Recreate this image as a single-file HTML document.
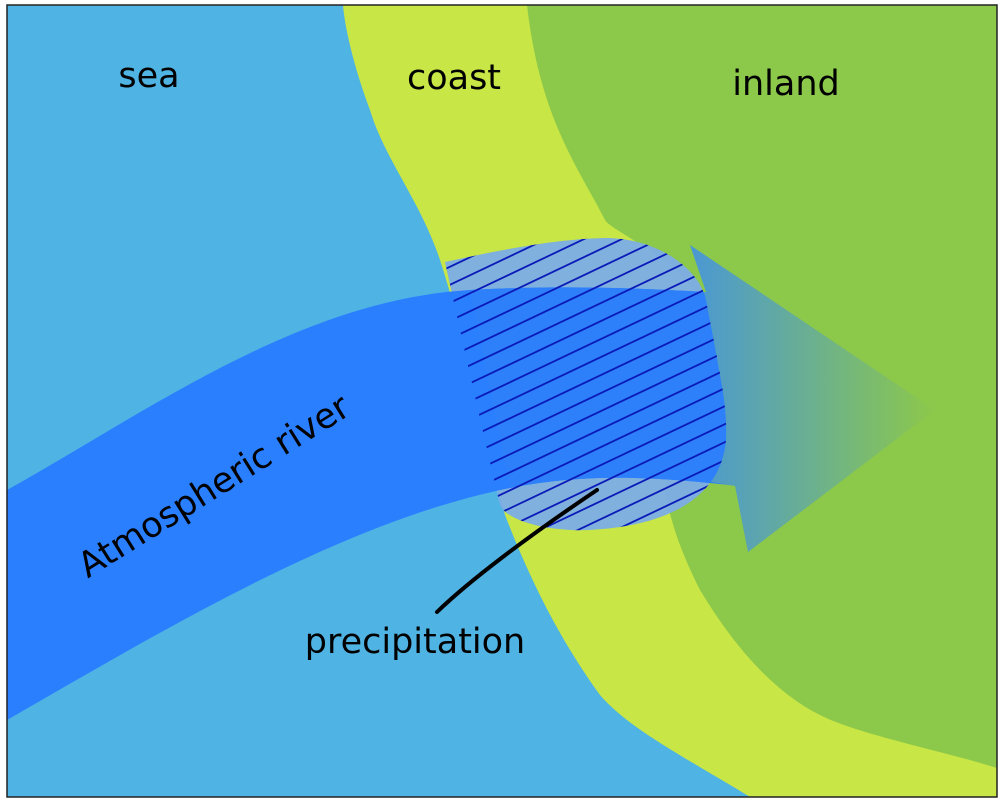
<!DOCTYPE html>
<html><head><meta charset="utf-8"><style>
html,body{margin:0;padding:0;background:#fff;}
svg{display:block}
text{font-family:"DejaVu Sans","Liberation Sans",sans-serif;fill:#000}
</style></head><body>
<svg width="1000" height="800" viewBox="0 0 1000 800" xmlns="http://www.w3.org/2000/svg">
<defs>
<linearGradient id="ag" x1="690" y1="0" x2="935" y2="0" gradientUnits="userSpaceOnUse">
<stop offset="0" stop-color="#4a98d4"/>
<stop offset="1" stop-color="#8cc84a"/>
</linearGradient>
<clipPath id="blob"><path d="M445,262 C500,250 560,238 610,238 C660,240 700,270 706,300 C715,350 728,400 726,440 C722,490 680,525 590,530 C540,532 505,518 500,505 C480,420 460,330 445,262 Z"/></clipPath>
</defs>
<rect x="0" y="0" width="1000" height="800" fill="#fff"/>
<rect x="7" y="5" width="990" height="792" fill="#4fb3e3"/>
<path d="M343,5 L997,5 L997,797 L750,797 C690,760 630,730 600,695 C560,640 530,580 505,515 C480,420 460,320 440,260 C420,200 385,160 370,110 C355,70 345,30 343,5 Z" fill="#c8e645"/>
<path d="M527,5 L997,5 L997,768 C940,750 860,735 820,715 C770,690 730,640 700,590 C680,550 670,520 665,490 L700,300 C680,260 610,230 605,220 C580,170 540,120 527,5 Z" fill="#8cc84a"/>
<!-- blob fill -->
<path d="M445,262 C500,250 560,238 610,238 C660,240 700,270 706,300 C715,350 728,400 726,440 C722,490 680,525 590,530 C540,532 505,518 500,505 C480,420 460,330 445,262 Z" fill="#7cade6" fill-opacity="0.95"/>
<!-- atmospheric river band -->
<path d="M7,490 C150,410 300,300 470,290 C560,285 640,288 705,292 L740,486 C680,480 600,470 510,488 C350,520 180,620 7,720 Z" fill="#2a7fff"/>
<path d="M700,292 L706,292 L690,245 L935,410 L748,552 L735,486 L700,480 Z" fill="url(#ag)"/>
<g clip-path="url(#blob)">
<path d="M470,290 C560,285 640,288 705,292 L740,486 C680,480 600,470 510,488 Z" fill="#2e80fa"/>
</g>
<g clip-path="url(#blob)" stroke="#0a1ab8" stroke-width="1.8">
<line x1="380" y1="300" x2="780" y2="110"/>
<line x1="380" y1="318" x2="780" y2="128"/>
<line x1="380" y1="336" x2="780" y2="146"/>
<line x1="380" y1="354" x2="780" y2="164"/>
<line x1="380" y1="372" x2="780" y2="182"/>
<line x1="380" y1="390" x2="780" y2="200"/>
<line x1="380" y1="408" x2="780" y2="218"/>
<line x1="380" y1="426" x2="780" y2="236"/>
<line x1="380" y1="444" x2="780" y2="254"/>
<line x1="380" y1="462" x2="780" y2="272"/>
<line x1="380" y1="480" x2="780" y2="290"/>
<line x1="380" y1="498" x2="780" y2="308"/>
<line x1="380" y1="516" x2="780" y2="326"/>
<line x1="380" y1="534" x2="780" y2="344"/>
<line x1="380" y1="552" x2="780" y2="362"/>
<line x1="380" y1="570" x2="780" y2="380"/>
<line x1="380" y1="588" x2="780" y2="398"/>
<line x1="380" y1="606" x2="780" y2="416"/>
<line x1="380" y1="624" x2="780" y2="434"/>
<line x1="380" y1="642" x2="780" y2="452"/>
<line x1="380" y1="660" x2="780" y2="470"/>
<line x1="380" y1="678" x2="780" y2="488"/>
<line x1="380" y1="696" x2="780" y2="506"/>
<line x1="380" y1="714" x2="780" y2="524"/>
<line x1="380" y1="732" x2="780" y2="542"/>
<line x1="380" y1="750" x2="780" y2="560"/>
</g>
<path d="M597,490 C530,535 470,580 437,612" fill="none" stroke="#000" stroke-width="4" stroke-linecap="round"/>
<rect x="7" y="5" width="990" height="792" fill="none" stroke="#222" stroke-width="1.5"/>
<text x="149" y="87" font-size="35" text-anchor="middle">sea</text>
<text x="454" y="89" font-size="35" text-anchor="middle">coast</text>
<text x="786" y="95" font-size="35" text-anchor="middle">inland</text>
<text x="415" y="653" font-size="35" text-anchor="middle">precipitation</text>
<text x="0" y="0" font-size="35" text-anchor="middle" transform="translate(220,496) rotate(-32)">Atmospheric river</text>
</svg>
</body></html>
